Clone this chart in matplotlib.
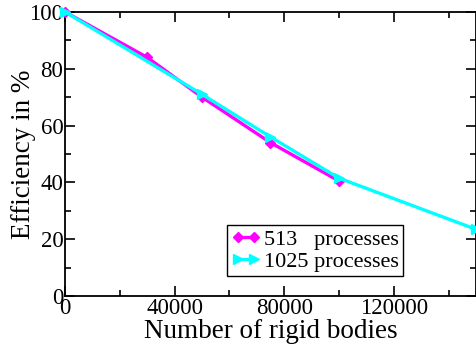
import matplotlib
matplotlib.use('Agg')
import matplotlib.pyplot as plt
from matplotlib.ticker import MultipleLocator

plt.rcParams['font.family'] = 'Liberation Serif'

x513 = [0, 30000, 50000, 75000, 100000]
eff513 = [100, 84, 70, 54, 40.5]
x1025 = [0, 50000, 75000, 100000, 150000]
eff1025 = [100, 71, 56, 41.5, 23.5]

fig = plt.figure(figsize=(4.77, 3.48), dpi=100)
ax = fig.add_axes([0.136, 0.149, 0.862, 0.817])

ax.plot(x513, eff513, color='#ff00ff', lw=2.4, marker='D', ms=5.5, label='513   processes', clip_on=False, zorder=3)
ax.plot(x1025, eff1025, color='#00ffff', lw=2.4, marker='>', ms=7, label='1025 processes', clip_on=False, zorder=4)

ax.set_xlim(0, 150000)
ax.set_ylim(0, 100)
ax.xaxis.set_major_locator(MultipleLocator(40000))
ax.xaxis.set_minor_locator(MultipleLocator(20000))
ax.yaxis.set_major_locator(MultipleLocator(20))
ax.yaxis.set_minor_locator(MultipleLocator(10))
ax.tick_params(which='both', direction='in', top=True, right=True, labelsize=16.5, width=1.2)
ax.tick_params(which='major', length=7)
ax.tick_params(which='minor', length=4)
ax.tick_params(axis='x', pad=1)
ax.tick_params(axis='y', pad=1)
for s in ax.spines.values():
    s.set_linewidth(1.3)

ax.set_xlabel('Number of rigid bodies', fontsize=19.5, labelpad=0)
ax.set_ylabel('Efficiency in %', fontsize=19.5, labelpad=-5)

leg = ax.legend(loc='lower left', bbox_to_anchor=(0.395, 0.07), numpoints=2, fontsize=16,
                fancybox=False, edgecolor='black', framealpha=1, handlelength=1.3,
                handletextpad=0.15, borderpad=0.2, labelspacing=0.05, borderaxespad=0)
leg.get_frame().set_linewidth(1.0)

fig.savefig('out.png', dpi=100)
